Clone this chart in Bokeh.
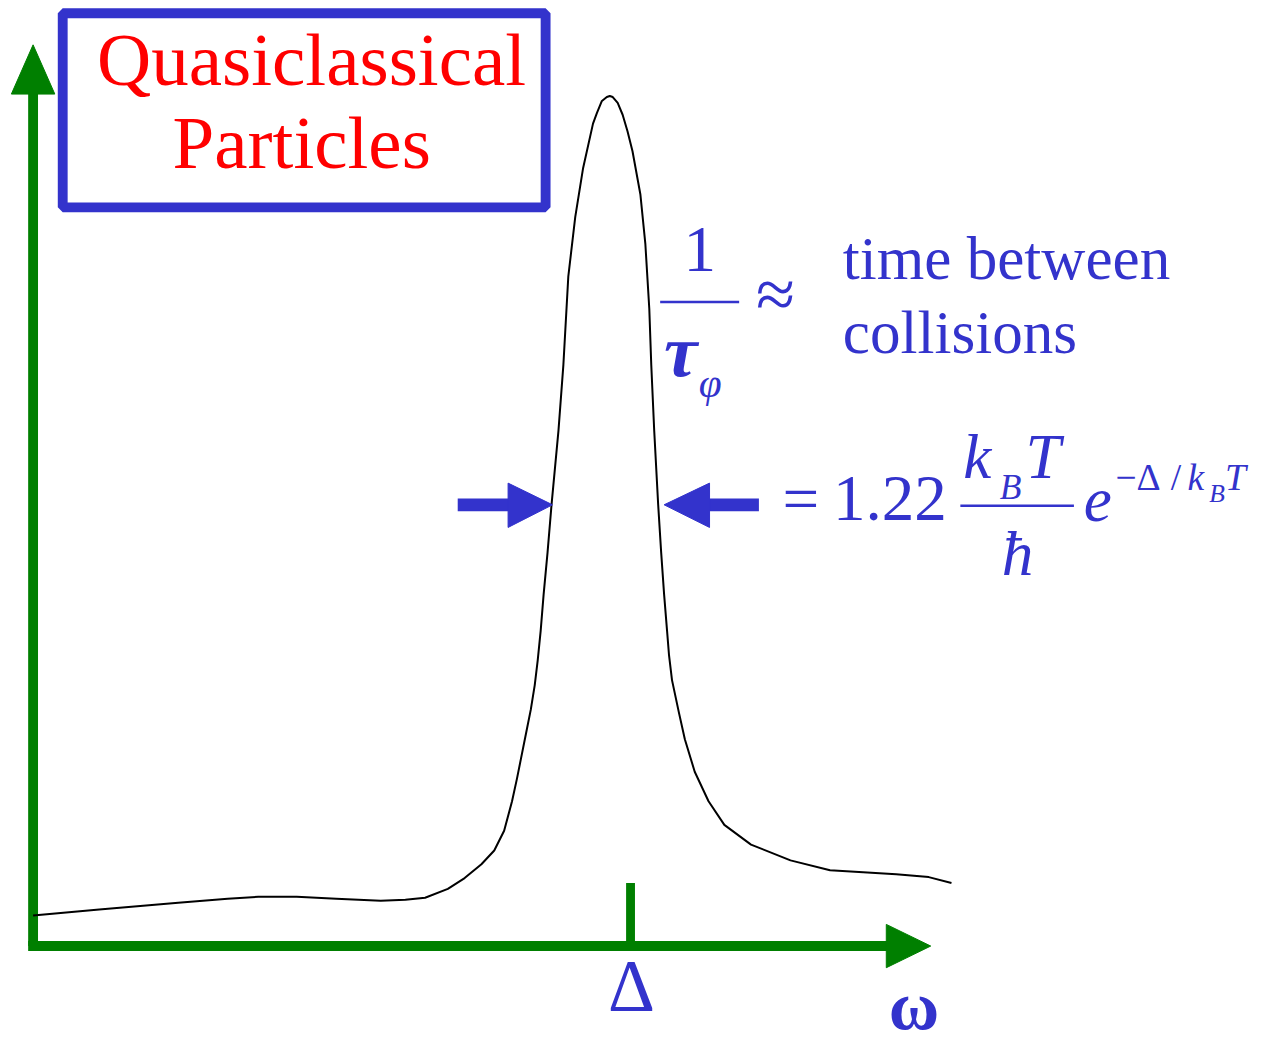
from bokeh.plotting import figure
from bokeh.models import Range1d
from bokeh.core.properties import value
from bokeh.embed import file_html
from bokeh.resources import INLINE

BLUE = "#3333CC"
GREEN = "#007F00"
RED = "#FF0000"
SERIF = value("Liberation Serif")

# Spectral curve (omega, intensity), in picture units
curve_omega_px = [33, 100, 180, 230, 261, 300, 340, 385, 410, 430, 453, 470, 487, 500, 510,
                  518, 523, 527, 532, 537, 541, 544, 547, 550, 554, 558, 565, 570, 575, 582,
                  590, 600, 604, 609, 614, 617, 620, 625, 630, 635, 640, 648, 653, 657, 659,
                  662, 666, 669, 672, 675, 677, 680, 687, 693, 703, 717, 733, 760, 800, 840,
                  907, 940, 963]
curve_level_px = [929, 923, 916, 912, 910, 910, 912, 914, 913, 911, 902, 891, 877, 863, 843,
                  813, 790, 770, 745, 720, 695, 670, 640, 603, 560, 512, 437, 370, 280, 220,
                  170, 125, 114, 102, 98, 97, 98, 104, 116, 133, 153, 197, 247, 313, 370,
                  437, 512, 560, 603, 640, 665, 690, 723, 750, 783, 813, 837, 857, 873, 883,
                  887, 890, 896]

DELTA_OMEGA_PX = 638

OX, OY = 33, 960
REF_W, REF_H = 1281, 1063
W, H = 1265, 1047
SCALE = (W / REF_W + H / REF_H) / 2


def X(px):
    return px - OX


def Y(py):
    return OY - py


omega = [X(v) for v in curve_omega_px]
level = [Y(v) for v in curve_level_px]

p = figure(width=W, height=H,
           x_range=Range1d(X(0), X(REF_W)), y_range=Range1d(Y(REF_H), Y(0)),
           output_backend="svg", toolbar_location=None, min_border=0,
           x_axis_location=None, y_axis_location=None)
p.grid.visible = False
p.outline_line_color = None
p.background_fill_color = "white"
p.border_fill_color = "white"

# axes (green)
p.line([X(33), X(33)], [Y(960), Y(92)], line_width=10 * SCALE, color=GREEN)
p.patch([X(11), X(55), X(33)], [Y(95), Y(95), Y(45)], color=GREEN)
p.line([X(28), X(900)], [Y(960), Y(960)], line_width=10 * SCALE, color=GREEN)
p.patch([X(897), X(897), X(942)], [Y(938), Y(982), Y(960)], color=GREEN)
p.line([X(DELTA_OMEGA_PX), X(DELTA_OMEGA_PX)], [Y(896), Y(960)], line_width=9 * SCALE, color=GREEN)

# curve
p.line(omega, level, line_width=2, color="black", line_join="round")

# title box
p.quad(left=X(63), right=X(552), top=Y(13), bottom=Y(210),
       fill_color="white", line_color=BLUE, line_width=10 * SCALE)

BASE_SHIFT = 0.365  # compensates where the svg backend puts the alphabetic baseline


def txt(px, py, s, size, color=BLUE, align="left", style="normal"):
    p.text(x=[X(px)], y=[Y(py - BASE_SHIFT * size)], text=[s], text_font=SERIF,
           text_font_size=f"{size * SCALE:.1f}px",
           text_color=color, text_align=align, text_baseline="alphabetic",
           text_font_style=style)


txt(315, 88, "Quasiclassical", 76, RED, "center")
txt(305, 172, "Particles", 76, RED, "center")

# 1/tau_phi ≈ time between collisions
txt(708, 277, "1", 66, align="center")
p.line([X(668), X(748)], [Y(306), Y(306)], line_width=2.5, color=BLUE)
txt(672, 383, "τ", 76, style="bold italic")
txt(707, 404, "φ", 42, style="italic")
txt(765, 324, "≈", 72)
txt(853, 285, "time between", 62)
txt(853, 360, "collisions", 62)

# arrows
p.line([X(463), X(515)], [Y(512), Y(512)], line_width=13 * SCALE, color=BLUE)
p.patch([X(514), X(514), X(559)], [Y(490), Y(535), Y(512)], color=BLUE)
p.line([X(717), X(768)], [Y(512), Y(512)], line_width=13 * SCALE, color=BLUE)
p.patch([X(718), X(718), X(672)], [Y(490), Y(535), Y(512)], color=BLUE)

# formula
txt(792, 530, "=", 66)
txt(843, 530, "1.22", 66)
txt(975, 487, "k", 64, style="italic")
txt(1012, 507, "B", 36, style="italic")
txt(1038, 487, "T", 64, style="italic")
p.line([X(972), X(1087)], [Y(513), Y(513)], line_width=2.5, color=BLUE)
txt(1030, 585, "ħ", 64, align="center", style="italic")
txt(1097, 530, "e", 64, style="italic")
txt(1129, 498, "−Δ", 38)
txt(1185, 498, "/", 38)
txt(1202, 498, "k", 38, style="italic")
txt(1224, 510, "B", 26, style="italic")
txt(1240, 498, "T", 38, style="italic")

# axis labels
txt(639, 1028, "Δ", 74, align="center")
txt(925, 1046, "ω", 70, align="center", style="bold")

open("out.html", "w").write(file_html(p, INLINE))
